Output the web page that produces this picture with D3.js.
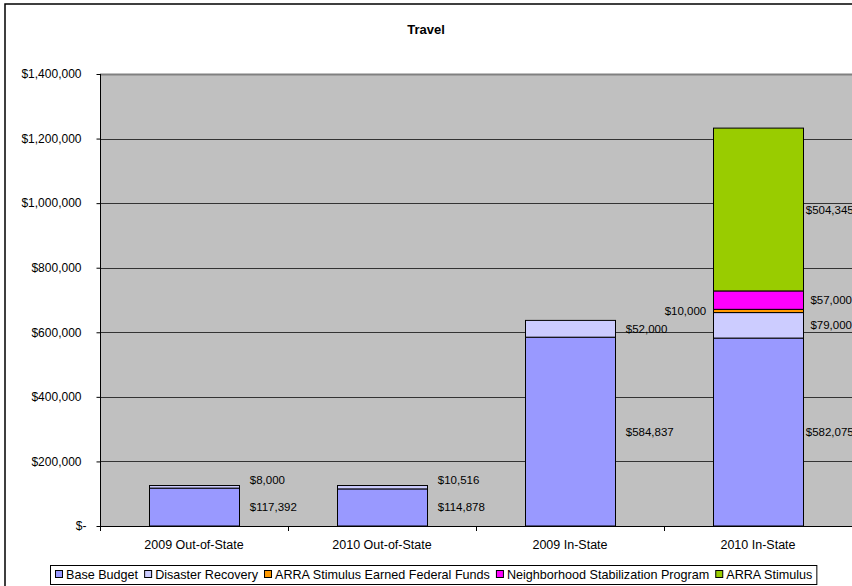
<!DOCTYPE html>
<html>
<head>
<meta charset="utf-8">
<script src="https://cdn.jsdelivr.net/npm/d3@7"></script>
<style>
  body { margin: 0; background: #fff; }
  svg { display: block; font-family: "Liberation Sans", Arial, sans-serif; }
</style>
</head>
<body>
<script>
var categories = ["2009 Out-of-State", "2010 Out-of-State", "2009 In-State", "2010 In-State"];
var seriesNames = ["Base Budget", "Disaster Recovery", "ARRA Stimulus Earned Federal Funds",
                   "Neighborhood Stabilization Program", "ARRA Stimulus"];
var baseBudget = [117392, 114878, 584837, 582075];
var disasterRecovery = [8000, 10516, 52000, 79000];
var arraEarned = [0, 0, 0, 10000];
var nsp = [0, 0, 0, 57000];
var arraStimulus = [0, 0, 0, 504345];
var yTicks = [0, 200000, 400000, 600000, 800000, 1000000, 1200000, 1400000];
var colors = ["#9999FF", "#CCCCFF", "#FF9900", "#FF00FF", "#99CC00"];

var width = 852, height = 586;
var margin = { top: 74, right: 0, bottom: 60, left: 100 };

var svg = d3.select("body").append("svg")
    .attr("width", width)
    .attr("height", height);

// outer chart border (cut off at right/bottom like the original)
svg.append("rect")
    .attr("x", 5).attr("y", 4)
    .attr("width", width + 10).attr("height", height + 10)
    .attr("fill", "#fff").attr("stroke", "#000").attr("stroke-width", 1.5);

svg.append("text")
    .attr("x", width / 2).attr("y", 34)
    .attr("text-anchor", "middle")
    .style("font-size", "13px").style("font-weight", "bold")
    .text("Travel");

var table = categories.map(function(c, i) {
  return {
    cat: c,
    "Base Budget": baseBudget[i],
    "Disaster Recovery": disasterRecovery[i],
    "ARRA Stimulus Earned Federal Funds": arraEarned[i],
    "Neighborhood Stabilization Program": nsp[i],
    "ARRA Stimulus": arraStimulus[i]
  };
});

var stacked = d3.stack().keys(seriesNames)(table);

var x = d3.scaleBand()
    .domain(categories)
    .range([margin.left, width - margin.right])
    .paddingInner(1.1 / 2.1)
    .paddingOuter(1.1 / 4.2);

var y = d3.scaleLinear()
    .domain([0, 1400000])
    .range([height - margin.bottom, margin.top]);

// plot area
svg.append("rect")
    .attr("x", margin.left).attr("y", margin.top)
    .attr("width", width - margin.left - margin.right)
    .attr("height", y(0) - margin.top)
    .attr("fill", "#C0C0C0");

svg.append("g").selectAll("line")
    .data(yTicks.filter(function(d) { return d > 0; }))
  .enter().append("line")
    .attr("x1", margin.left).attr("x2", width)
    .attr("y1", function(d) { return Math.round(y(d)) + 0.5; })
    .attr("y2", function(d) { return Math.round(y(d)) + 0.5; })
    .attr("stroke", function(d) { return d === 1400000 ? "#808080" : "#333"; })
    .attr("stroke-width", function(d) { return d === 1400000 ? 2 : 1; });

var fmt = d3.format(",");
var yAxis = d3.axisLeft(y)
    .tickValues(yTicks)
    .tickSize(4)
    .tickPadding(15)
    .tickFormat(function(d) { return d === 0 ? "$-" : "$" + fmt(d); });

var gy = svg.append("g")
    .attr("transform", "translate(" + (margin.left + 0.5) + ",0)")
    .call(yAxis);
gy.selectAll("text").style("font-size", "12px").attr("fill", "#000");
gy.selectAll(".tick").filter(function(d) { return d === 0; }).select("text").attr("dx", 5);
gy.selectAll("line").attr("stroke", "#000");
gy.select(".domain").remove();

// bars
var layer = svg.append("g").selectAll("g")
    .data(stacked)
  .enter().append("g")
    .attr("fill", function(d, i) { return colors[i]; });

layer.selectAll("rect")
    .data(function(d) { return d.filter(function(s) { return s[1] - s[0] > 0; }); })
  .enter().append("rect")
    .attr("x", function(d) { return Math.round(x(d.data.cat)) + 0.5; })
    .attr("y", function(d) { return y(d[1]); })
    .attr("width", Math.round(x.bandwidth()))
    .attr("height", function(d) { return y(d[0]) - y(d[1]); })
    .attr("stroke", "#000")
    .attr("stroke-width", 1);

// axis lines
svg.append("line")
    .attr("x1", margin.left + 0.5).attr("x2", margin.left + 0.5)
    .attr("y1", margin.top).attr("y2", y(0))
    .attr("stroke", "#000");
svg.append("line")
    .attr("x1", margin.left).attr("x2", width)
    .attr("y1", Math.round(y(0)) + 0.5).attr("y2", Math.round(y(0)) + 0.5)
    .attr("stroke", "#000");

// category ticks at band boundaries
var bounds = d3.range(categories.length + 1).map(function(i) { return margin.left + i * x.step(); });
svg.append("g").selectAll("line")
    .data(bounds)
  .enter().append("line")
    .attr("x1", function(d) { return Math.round(d) + 0.5; })
    .attr("x2", function(d) { return Math.round(d) + 0.5; })
    .attr("y1", y(0)).attr("y2", y(0) + 5)
    .attr("stroke", "#000");

svg.append("g").selectAll("text")
    .data(categories)
  .enter().append("text")
    .attr("x", function(d) { return x(d) + x.bandwidth() / 2; })
    .attr("y", y(0) + 23)
    .attr("text-anchor", "middle")
    .style("font-size", "12.5px")
    .text(function(d) { return d; });

// data labels
var labels = [];
stacked.forEach(function(s, si) {
  s.forEach(function(d) {
    var v = d[1] - d[0];
    if (v <= 0) return;
    var h = y(d[0]) - y(d[1]);
    var left = seriesNames[si] === "ARRA Stimulus Earned Federal Funds";
    var ym = y((d[0] + d[1]) / 2);
    if (h < 10 && !left) ym -= 7;
    labels.push({
      barRight: x(d.data.cat) + x.bandwidth(),
      x: left ? x(d.data.cat) - 7 : x(d.data.cat) + x.bandwidth() + 11,
      y: ym + 4,
      anchor: left ? "end" : "start",
      text: "$" + fmt(v)
    });
  });
});

svg.append("g").selectAll("text")
    .data(labels)
  .enter().append("text")
    .attr("x", function(d) { return d.x; })
    .attr("y", function(d) { return d.y; })
    .attr("text-anchor", function(d) { return d.anchor; })
    .style("font-size", "11.5px")
    .text(function(d) { return d.text; })
    .each(function(d) {
      if (d.anchor !== "start") return;
      var w = this.getComputedTextLength();
      if (d.x + w > width) {
        d3.select(this).attr("x", Math.max(d.barRight + 3, width - w));
      }
    });

// legend
var legend = svg.append("g");
var lx = 55, ly = 575;
seriesNames.forEach(function(name, i) {
  var g = legend.append("g");
  g.append("rect")
    .attr("x", lx + 0.5).attr("y", ly - 4.5)
    .attr("width", 7).attr("height", 7)
    .attr("fill", colors[i]).attr("stroke", "#000");
  var t = g.append("text")
    .attr("x", lx + 11).attr("y", ly + 4)
    .style("font-size", "12.6px")
    .text(name);
  lx += 11 + t.node().getComputedTextLength() + 6;
});
legend.insert("rect", ":first-child")
    .attr("x", 50.5).attr("y", 565.5)
    .attr("width", lx - 50 - 2).attr("height", 19)
    .attr("fill", "#fff").attr("stroke", "#000");
</script>
</body>
</html>
